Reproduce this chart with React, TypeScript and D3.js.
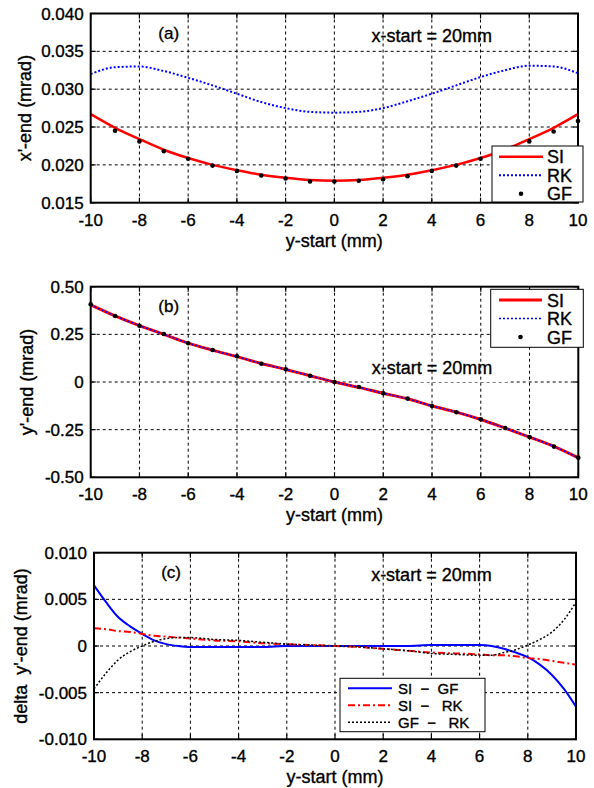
import React from "react";
import * as d3 from "d3";

// y-start positions (mm)
const yStart = [-10, -9, -8, -7, -6, -5, -4, -3, -2, -1, 0, 1, 2, 3, 4, 5, 6, 7, 8, 9, 10];

// panel (a): x'-end (mrad)
const xEndSI = [0.0267, 0.0249, 0.0234, 0.0220, 0.0209, 0.0200, 0.0193, 0.0187, 0.0183, 0.0180, 0.0179,
  0.0180, 0.0183, 0.0187, 0.0193, 0.0200, 0.0209, 0.0220, 0.0234, 0.0249, 0.0267];
const xEndRK = [0.0320, 0.0329, 0.0330, 0.0324, 0.0315, 0.0305, 0.0294, 0.0283, 0.0275, 0.0270, 0.0269,
  0.0270, 0.0275, 0.0284, 0.0294, 0.0305, 0.0316, 0.0325, 0.0331, 0.0330, 0.0321];
const gfStartA = [-9, -8, -7, -6, -5, -4, -3, -2, -1, 0, 1, 2, 3, 4, 5, 6, 7, 8, 9, 10];
const xEndGF = [0.0245, 0.0231, 0.0218, 0.0208, 0.0199, 0.0192, 0.0186, 0.0182, 0.0178, 0.0178,
  0.0179, 0.0181, 0.0185, 0.0192, 0.0199, 0.0208, 0.0219, 0.0231, 0.0244, 0.0258];

// panel (b): y'-end (mrad)
const yEndSI = [0.405, 0.347, 0.296, 0.250, 0.204, 0.167, 0.133, 0.097, 0.066, 0.033, 0,
  -0.028, -0.059, -0.088, -0.126, -0.158, -0.197, -0.242, -0.289, -0.338, -0.398];
const yEndRK = [0.405, 0.347, 0.296, 0.250, 0.204, 0.167, 0.133, 0.097, 0.066, 0.033, 0,
  -0.028, -0.059, -0.088, -0.126, -0.158, -0.197, -0.242, -0.289, -0.338, -0.398];
const yEndGF = [0.408, 0.346, 0.295, 0.252, 0.203, 0.168, 0.135, 0.096, 0.067, 0.033, 0,
  -0.026, -0.059, -0.087, -0.126, -0.159, -0.196, -0.241, -0.289, -0.339, -0.397];

// panel (c): differences
const deltaStart = [-10, -9.5, -9, -8.5, -8, -7.5, -7, -6.5, -6, -5, -4, -3, -2, -1, 0, 1, 2, 3, 4, 5, 6,
  6.5, 7, 7.5, 8, 8.5, 9, 9.5, 10];
const siMinusGF = [0.0065, 0.0047, 0.0031, 0.0021, 0.0013, 0.0006, 0.0002, 0.0, -0.0001, -0.0001, -0.0001,
  -0.0001, 0, 0, 0, 0, 0, 0, 0.0001, 0.0001, 0.0001, 0.0, -0.0003, -0.0007, -0.0012, -0.0020, -0.0031, -0.0046, -0.0065];
const siMinusRK = [0.0019, 0.0018, 0.0016, 0.0015, 0.0013, 0.0011, 0.0010, 0.0009, 0.0008, 0.0006, 0.0005,
  0.0003, 0.0002, 0.0001, 0, -0.0001, -0.0003, -0.0005, -0.0007, -0.0008, -0.0009, -0.0010, -0.0010, -0.0011,
  -0.0013, -0.0014, -0.0016, -0.0018, -0.0020];
const gfMinusRK = [-0.0046, -0.0029, -0.0015, -0.0006, 0, 0.0005, 0.0008, 0.0009, 0.0009, 0.0007, 0.0006,
  0.0004, 0.0002, 0.0001, 0, -0.0001, -0.0003, -0.0005, -0.0008, -0.0009, -0.0010, -0.0010, -0.0007, -0.0004,
  0.0001, 0.0007, 0.0015, 0.0028, 0.0047];

const xTicks = [-10, -8, -6, -4, -2, 0, 2, 4, 6, 8, 10];
const aTicks = [0.015, 0.020, 0.025, 0.030, 0.035, 0.040];
const aTickLabels = ["0.015", "0.020", "0.025", "0.030", "0.035", "0.040"];
const bTicks = [-0.5, -0.25, 0, 0.25, 0.5];
const bTickLabels = ["-0.50", "-0.25", "0", "0.25", "0.50"];
const cTicks = [-0.01, -0.005, 0, 0.005, 0.01];
const cTickLabels = ["-0.010", "-0.005", "0", "0.005", "0.010"];

const FONT = "'Liberation Sans', Arial, Helvetica, sans-serif";
// slight outline so the text weight is closer to the scanned figure
const TXT = { fontFamily: FONT, fill: "#000", stroke: "#000", strokeWidth: 0.35 };

type Series = {
  name: string;
  xs: number[];
  ys: number[];
  color: string;
  width: number;
  dash?: string;
  dots?: boolean;
};

type PanelProps = {
  box: { left: number; right: number; top: number; bottom: number };
  yDomain: [number, number];
  yTicks: number[];
  yTickLabels: string[];
  yLabel: string;
  yLabelX: number;
  tag: string;
  noteY: number;
  noteMask?: boolean;
  series: Series[];
  legend: {
    x: number; y: number; w: number; h: number; rowH: number;
    lineX0: number; lineX1: number; textX: number; fontSize: number; labels: string[];
  };
};

const Panel = ({ box, yDomain, yTicks, yTickLabels, yLabel, yLabelX, tag, noteY, noteMask, series, legend }: PanelProps) => {
  const x = d3.scaleLinear().domain([-10, 10]).range([box.left, box.right]);
  const y = d3.scaleLinear().domain(yDomain).range([box.bottom, box.top]);
  const line = d3.line<[number, number]>().x(d => x(d[0])).y(d => y(d[1])).curve(d3.curveMonotoneX);
  const midX = (box.left + box.right) / 2;
  const midY = (box.top + box.bottom) / 2;

  return (
    <g>
      {/* horizontal grid */}
      {yTicks.slice(1, -1).map(t => (
        <line key={"h" + t} x1={box.left} x2={box.right} y1={y(t)} y2={y(t)}
          stroke="#000" strokeWidth={1} strokeDasharray="3,3" />
      ))}
      {noteMask && <rect x={x(1.15)} y={noteY - 16} width={x(7.1) - x(1.15)} height={30} fill="#fff" />}
      {/* vertical grid */}
      {xTicks.slice(1, -1).map(t => (
        <line key={"v" + t} x1={x(t)} x2={x(t)} y1={box.top} y2={box.bottom}
          stroke="#000" strokeWidth={1} strokeDasharray="3,3" />
      ))}

      <text x={x(-6.8)} y={box.top + 25} fontSize={17} textAnchor="middle" {...TXT}>{tag}</text>
      <text x={x(4)} y={noteY + 6} fontSize={18} textAnchor="middle" {...TXT}>x-start = 20mm</text>

      {series.map(s =>
        s.dots ? (
          <g key={s.name}>
            {s.xs.map((v, i) => (
              <circle key={i} cx={x(v)} cy={y(s.ys[i])} r={2.3} fill={s.color} />
            ))}
          </g>
        ) : (
          <path key={s.name} d={line(s.xs.map((v, i) => [v, s.ys[i]]) as [number, number][]) || ""}
            fill="none" stroke={s.color} strokeWidth={s.width} strokeDasharray={s.dash} />
        )
      )}

      {/* axes box */}
      <rect x={box.left} y={box.top} width={box.right - box.left} height={box.bottom - box.top}
        fill="none" stroke="#000" strokeWidth={2} />
      {xTicks.map(t => (
        <g key={"xt" + t}>
          <line x1={x(t)} x2={x(t)} y1={box.bottom} y2={box.bottom - 5} stroke="#000" strokeWidth={1.2} />
          <line x1={x(t)} x2={x(t)} y1={box.top} y2={box.top + 5} stroke="#000" strokeWidth={1.2} />
          <text x={x(t)} y={box.bottom + 23} fontSize={17} textAnchor="middle" {...TXT}>{t}</text>
        </g>
      ))}
      {yTicks.map((t, i) => (
        <g key={"yt" + t}>
          <line x1={box.left} x2={box.left + 5} y1={y(t)} y2={y(t)} stroke="#000" strokeWidth={1.2} />
          <line x1={box.right} x2={box.right - 5} y1={y(t)} y2={y(t)} stroke="#000" strokeWidth={1.2} />
          <text x={box.left - 7} y={y(t) + 6} fontSize={17} textAnchor="end" {...TXT}>{yTickLabels[i]}</text>
        </g>
      ))}

      <text x={midX} y={box.bottom + 44} fontSize={18} textAnchor="middle" {...TXT}>y-start (mm)</text>
      <text transform={`translate(${yLabelX},${midY}) rotate(-90)`} fontSize={18} textAnchor="middle"
        {...TXT} style={{ whiteSpace: "pre" }}>{yLabel}</text>

      {/* legend */}
      <rect x={legend.x} y={legend.y} width={legend.w} height={legend.h} fill="#fff" stroke="#000" strokeWidth={1} />
      {series.map((s, i) => {
        const cy = legend.y + legend.rowH * (i + 0.5) + 1.5;
        return (
          <g key={"lg" + s.name}>
            {s.dots ? (
              <circle cx={(legend.lineX0 + legend.lineX1) / 2} cy={cy} r={2.3} fill={s.color} />
            ) : (
              <line x1={legend.lineX0} x2={legend.lineX1} y1={cy} y2={cy} stroke={s.color}
                strokeWidth={s.width} strokeDasharray={s.dash} />
            )}
            <text x={legend.textX} y={cy + legend.fontSize * 0.36} fontSize={legend.fontSize} {...TXT}
              style={{ whiteSpace: "pre" }}>
              {legend.labels[i]}
            </text>
          </g>
        );
      })}
    </g>
  );
};

export default function App() {
  return (
    <svg width={594} height={788} style={{ position: "absolute", left: 0, top: 0, background: "#fff" }}>
      <rect width={594} height={788} fill="#fff" />
      <Panel
        box={{ left: 90.7, right: 578, top: 13.5, bottom: 202.7 }}
        yDomain={[0.015, 0.04]}
        yTicks={aTicks}
        yTickLabels={aTickLabels}
        yLabel="x'-end (mrad)"
        yLabelX={31}
        tag="(a)"
        noteY={36}
        series={[
          { name: "SI", xs: yStart, ys: xEndSI, color: "#ff0000", width: 2.5 },
          { name: "RK", xs: yStart, ys: xEndRK, color: "#0000ff", width: 2, dash: "2,2" },
          { name: "GF", xs: gfStartA, ys: xEndGF, color: "#000", width: 0, dots: true },
        ]}
        legend={{ x: 492, y: 146, w: 91, h: 56, rowH: 18.5, lineX0: 499, lineX1: 543, textX: 547, fontSize: 18, labels: ["SI", "RK", "GF"] }}
      />
      <Panel
        box={{ left: 90.7, right: 578.3, top: 286.7, bottom: 477.3 }}
        yDomain={[-0.5, 0.5]}
        yTicks={bTicks}
        yTickLabels={bTickLabels}
        yLabel="y'-end (mrad)"
        yLabelX={33}
        tag="(b)"
        noteY={368}
        noteMask
        series={[
          { name: "SI", xs: yStart, ys: yEndSI, color: "#ff0000", width: 3 },
          { name: "RK", xs: yStart, ys: yEndRK, color: "#0000ff", width: 1.6, dash: "2,2" },
          { name: "GF", xs: yStart, ys: yEndGF, color: "#000", width: 0, dots: true },
        ]}
        legend={{ x: 490.7, y: 289.3, w: 92.6, h: 58, rowH: 18.5, lineX0: 499, lineX1: 542, textX: 547, fontSize: 18, labels: ["SI", "RK", "GF"] }}
      />
      <Panel
        box={{ left: 94, right: 576, top: 552.7, bottom: 739.3 }}
        yDomain={[-0.01, 0.01]}
        yTicks={cTicks}
        yTickLabels={cTickLabels}
        yLabel={"delta  y'-end (mrad)"}
        yLabelX={27}
        tag="(c)"
        noteY={575}
        series={[
          { name: "SI-GF", xs: deltaStart, ys: siMinusGF, color: "#0000ff", width: 2 },
          { name: "SI-RK", xs: deltaStart, ys: siMinusRK, color: "#ff0000", width: 2, dash: "7,3,2,3" },
          { name: "GF-RK", xs: deltaStart, ys: gfMinusRK, color: "#000", width: 1.5, dash: "2,2" },
        ]}
        legend={{ x: 340, y: 678.3, w: 145, h: 53.4, rowH: 17, lineX0: 348, lineX1: 392, textX: 398, fontSize: 15, labels: ["SI  \u2212  GF", "SI  \u2212   RK", "GF  \u2212   RK"] }}
      />
    </svg>
  );
}
